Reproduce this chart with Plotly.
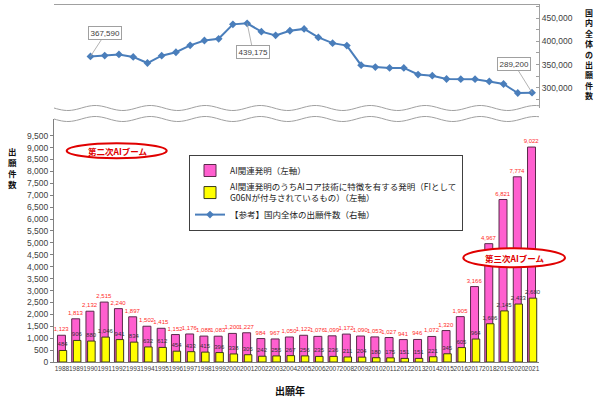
import plotly.graph_objects as go
import math

# ---------------- data ----------------
years = list(range(1988, 2022))
ai_related = [1123, 1813, 2132, 2515, 2240, 1897, 1502, 1415, 1152, 1176,
              1088, 1083, 1200, 1227, 984, 967, 1050, 1122, 1076, 1099,
              1172, 1090, 1053, 1027, 941, 946, 1072, 1320, 1905, 3166,
              4967, 6821, 7774, 9022]
ai_core = [484, 906, 880, 1046, 941, 834, 632, 612, 454, 433,
           415, 396, 338, 305, 242, 255, 267, 256, 235, 236,
           211, 204, 180, 175, 151, 151, 221, 345, 605, 964,
           1606, 2145, 2433, 2680]
line_years = list(range(1990, 2022))
total_apps = [367590, 369396, 371894, 366486, 353301, 369215, 376615, 391572,
              401932, 405655, 436865, 439175, 421044, 413092, 423081, 427078,
              408674, 396291, 391002, 348596, 344598, 342610, 342796, 328436,
              325989, 318721, 318381, 318479, 313567, 307969, 288472, 289200]

left_ticks = list(range(0, 10000, 500))
right_tickvals = [275000, 300000, 325000, 350000, 375000, 400000, 425000, 450000, 475000]
right_ticktext = ["", "300,000", "", "350,000", "", "400,000", "", "450,000", ""]

name_related = "AI関連発明（左軸）"
name_core = "AI関連発明のうちAIコア技術に特徴を有する発明（FIとして<br>G06Nが付与されているもの）（左軸）"
name_total = "【参考】国内全体の出願件数（右軸）"
x_title = "出願年"
left_title = "出願件数"
right_title = "国内全体の出願件数"
boom2 = "第二次AIブーム"
boom3 = "第三次AIブーム"

# ---------------- layout helpers ----------------
W, H = 600, 401
L, R, T, B = 54, 61, 5, 39
PW, PH = W - L - R, H - T - B


def px(x):
    return (x - L) / PW


def py(y):
    return (H - B - y) / PH


JP = "Noto Sans CJK JP"
NUM = "Liberation Sans Narrow, Liberation Sans, sans-serif"
NUM2 = "Liberation Sans, sans-serif"
PINK = "#FF5FCF"
YELLOW = "#FFFF00"
BLUE = "#4A7EBB"
GRAY = "#A0A0A0"

fig = go.Figure()

fig.add_trace(go.Bar(
    x=years, y=ai_related, name=name_related,
    marker=dict(color=PINK, line=dict(color="#5A2A4A", width=1)),
    width=0.56, offset=-0.316,
    texttemplate="%{y:,d}", textposition="outside", constraintext="none",
    textfont=dict(color="#FF2A2A", size=6, family=NUM),
    cliponaxis=False, legendgroup="a",
))
fig.add_trace(go.Bar(
    x=years, y=ai_core, name=name_core,
    marker=dict(color=YELLOW, line=dict(color="#3A3A1A", width=1)),
    width=0.53, offset=-0.2,
    texttemplate="%{y:,d}", textposition="outside", constraintext="none",
    textfont=dict(color="#333333", size=6, family=NUM),
    cliponaxis=False, legendgroup="b",
))
fig.add_trace(go.Scatter(
    x=line_years, y=total_apps, name=name_total, xaxis="x2", yaxis="y2",
    mode="lines+markers",
    line=dict(color=BLUE, width=2),
    marker=dict(symbol="diamond", size=6, color=BLUE),
    legendgroup="c",
))

xr = [1987.44, 2021.49]
dom_bottom = [0, py(119)]
dom_top = [py(108), 1]
yr_bottom = [0, 10200]
yr_top = [256100, 478700]

fig.update_layout(
    width=W, height=H,
    margin=dict(l=L, r=R, t=T, b=B),
    paper_bgcolor="white", plot_bgcolor="white",
    barmode="overlay",
    showlegend=True,
    legend=dict(
        x=px(189), y=py(155), xanchor="left", yanchor="top",
        bordercolor="#404040", borderwidth=1, bgcolor="white",
        font=dict(family=JP, size=8.5, color="#222222"),
        tracegroupgap=0, itemwidth=30,
    ),
    xaxis=dict(
        range=xr, domain=[0, 1], anchor="y",
        tickvals=years, ticktext=[str(y) for y in years],
        tickangle=0, tickfont=dict(size=6.5, family=NUM, color="#404040"),
        showline=True, linecolor="#808080", ticks="", showgrid=False, zeroline=False,
    ),
    xaxis2=dict(
        range=xr, domain=[0, 1], anchor="y2", matches="x", side="top",
        showline=True, linecolor=GRAY, showticklabels=False, ticks="",
        showgrid=False, zeroline=False,
    ),
    yaxis=dict(
        range=yr_bottom, domain=dom_bottom, anchor="x",
        tickvals=left_ticks, tickformat=",d",
        tickfont=dict(size=8.5, family=NUM2, color="#404040"),
        ticks="outside", ticklen=3, tickcolor="#808080",
        showline=True, linecolor="#808080", showgrid=False, zeroline=False,
    ),
    yaxis3=dict(
        range=yr_bottom, overlaying="y", side="right", anchor="x",
        dtick=1000, tick0=0, ticks="inside", ticklen=3, tickcolor="#808080",
        showticklabels=False, showline=True, linecolor="#808080",
        showgrid=False, zeroline=False,
    ),
    yaxis2=dict(
        range=yr_top, domain=dom_top, anchor="x2", side="right",
        tickvals=right_tickvals, ticktext=right_ticktext,
        tickfont=dict(size=8.5, family=NUM2, color="#404040"),
        ticks="inside", ticklen=3, tickcolor=GRAY,
        showline=True, linecolor=GRAY, showgrid=False, zeroline=False,
    ),
    yaxis4=dict(
        range=yr_top, overlaying="y2", side="left", anchor="x2",
        tickvals=right_tickvals, ticks="inside", ticklen=3, tickcolor=GRAY,
        showticklabels=False, showline=True, linecolor=GRAY,
        showgrid=False, zeroline=False,
    ),
)

# ---------------- wavy break lines ----------------


def wave_path(cy, amp=2.5, period=55.0):
    pts = []
    x = float(L)
    while x <= L + PW + 0.01:
        y = cy + amp * math.sin(2 * math.pi * (x - L) / period)
        pts.append((px(x), py(y)))
        x += 2.5
    return "M " + " L ".join(f"{a:.5f},{b:.5f}" for a, b in pts)


shapes = []
for cy in (108, 119):
    shapes.append(dict(type="path", xref="paper", yref="paper",
                       path=wave_path(cy), line=dict(color=GRAY, width=1)))

# ellipses
shapes.append(dict(type="circle", xref="paper", yref="paper",
                   x0=px(66.7), x1=px(166.7), y0=py(158.3), y1=py(143.3),
                   line=dict(color="#E00000", width=2), fillcolor="white"))
shapes.append(dict(type="circle", xref="paper", yref="paper",
                   x0=px(463.3), x1=px(565), y0=py(267.3), y1=py(248.3),
                   line=dict(color="#E00000", width=2), fillcolor="white"))
fig.update_layout(shapes=shapes)

ann = []
ann.append(dict(text=f"<b>{boom2}</b>", xref="paper", yref="paper", x=px(117), y=py(151),
                showarrow=False, font=dict(family=JP, size=8.5, color="#E00000"),
                xanchor="center", yanchor="middle"))
ann.append(dict(text=f"<b>{boom3}</b>", xref="paper", yref="paper", x=px(514), y=py(258),
                showarrow=False, font=dict(family=JP, size=8.5, color="#E00000"),
                xanchor="center", yanchor="middle"))

# callouts on the line
i_max = total_apps.index(max(total_apps))
callouts = [
    (line_years[0], total_apps[0], 15, -23),
    (line_years[i_max], total_apps[i_max], 6, 29),
    (line_years[-1], total_apps[-1], -18, -29),
]
for xv, yv, axo, ayo in callouts:
    ann.append(dict(x=xv, y=yv, xref="x2", yref="y2", text=f"{yv:,}",
                    showarrow=True, arrowhead=0, arrowwidth=0.8, arrowcolor=GRAY,
                    ax=axo, ay=ayo, standoff=0,
                    bordercolor=GRAY, borderwidth=1, borderpad=1.5, bgcolor="white",
                    font=dict(family=NUM2, size=8, color="#404040")))

# axis titles
ann.append(dict(text=f"<b>{x_title}</b>", xref="paper", yref="paper", x=px(290), y=py(390),
                showarrow=False, font=dict(family=JP, size=10, color="#111111"),
                xanchor="center", yanchor="middle"))
ann.append(dict(text="<br>".join(f"<b>{ch}</b>" for ch in left_title),
                xref="paper", yref="paper", x=px(12), y=py(143),
                showarrow=False, font=dict(family=JP, size=8.5, color="#111111"),
                xanchor="center", yanchor="top"))
ann.append(dict(text="<br>".join(f"<b>{ch}</b>" for ch in right_title),
                xref="paper", yref="paper", x=px(589), y=py(5),
                showarrow=False, font=dict(family=JP, size=8, color="#111111"),
                xanchor="center", yanchor="top"))
fig.update_layout(annotations=ann)

fig.write_html("out.html", config={"displayModeBar": False},
               post_script="document.body.style.margin='0px';document.body.style.overflow='hidden';")
